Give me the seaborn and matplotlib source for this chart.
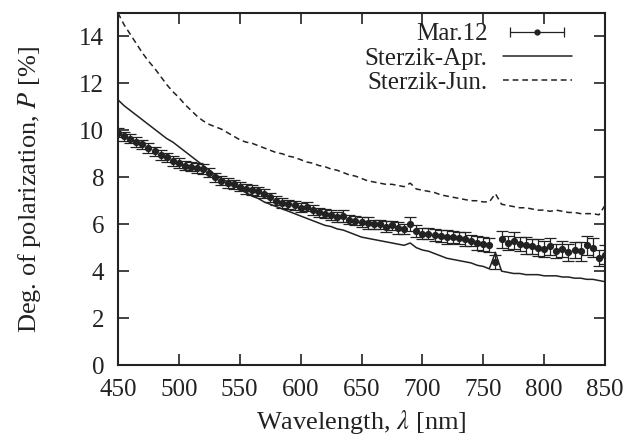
import numpy as np
import pandas as pd
import matplotlib
matplotlib.use("Agg")
import matplotlib.pyplot as plt
import seaborn as sns
from matplotlib.lines import Line2D
from matplotlib.legend_handler import HandlerLine2D, HandlerTuple

wavelength = [450, 455, 460, 465, 470, 475, 480, 485, 490, 495,
              500, 505, 510, 515, 520, 525, 530, 535, 540, 545,
              550, 555, 560, 565, 570, 575, 580, 585, 590, 595,
              600, 605, 610, 615, 620, 625, 630, 635, 640, 645,
              650, 655, 660, 665, 670, 675, 680, 685, 690, 695,
              700, 705, 710, 715, 720, 725, 730, 735, 740, 745,
              750, 755, 760, 765, 770, 775, 780, 785, 790, 795,
              800, 805, 810, 815, 820, 825, 830, 835, 840, 845, 850]

sterzik_jun = [15.0, 14.5, 14.1, 13.7, 13.3, 12.95, 12.65, 12.3, 11.95, 11.65,
               11.4, 11.1, 10.85, 10.6, 10.4, 10.25, 10.15, 10.05, 9.9, 9.75,
               9.6, 9.5, 9.45, 9.35, 9.25, 9.15, 9.05, 9.0, 8.9, 8.85,
               8.75, 8.65, 8.6, 8.5, 8.45, 8.35, 8.3, 8.2, 8.1, 8.05,
               7.95, 7.85, 7.8, 7.75, 7.7, 7.7, 7.65, 7.6, 7.75, 7.5,
               7.45, 7.4, 7.35, 7.25, 7.2, 7.15, 7.1, 7.05, 7.0, 7.0,
               6.95, 6.95, 7.3, 6.85, 6.8, 6.75, 6.7, 6.7, 6.65, 6.6,
               6.6, 6.55, 6.6, 6.55, 6.5, 6.5, 6.45, 6.45, 6.45, 6.4, 6.8]

sterzik_apr = [11.3, 11.05, 10.85, 10.65, 10.45, 10.25, 10.05, 9.85, 9.65, 9.5,
               9.3, 9.1, 8.9, 8.7, 8.5, 8.3, 8.1, 7.95, 7.8, 7.65,
               7.5, 7.35, 7.2, 7.1, 6.95, 6.85, 6.75, 6.65, 6.55, 6.45,
               6.35, 6.25, 6.15, 6.05, 5.95, 5.9, 5.8, 5.75, 5.65, 5.55,
               5.45, 5.4, 5.35, 5.3, 5.25, 5.2, 5.15, 5.1, 5.2, 5.0,
               4.9, 4.85, 4.75, 4.65, 4.55, 4.5, 4.45, 4.4, 4.35, 4.25,
               4.2, 4.1, 4.8, 4.0, 3.95, 3.9, 3.9, 3.85, 3.85, 3.85,
               3.8, 3.8, 3.8, 3.75, 3.75, 3.7, 3.7, 3.65, 3.65, 3.6, 3.55]

mar12 = [9.9, 9.75, 9.65, 9.5, 9.4, 9.25, 9.1, 8.95, 8.85, 8.7,
         8.6, 8.5, 8.45, 8.4, 8.35, 8.2, 8.0, 7.85, 7.75, 7.7,
         7.6, 7.5, 7.45, 7.4, 7.3, 7.15, 7.0, 6.9, 6.85, 6.8,
         6.7, 6.75, 6.6, 6.5, 6.45, 6.4, 6.3, 6.35, 6.2, 6.15,
         6.1, 6.05, 6.0, 6.0, 5.9, 5.95, 5.85, 5.8, 6.0, 5.7,
         5.6, 5.6, 5.55, 5.5, 5.45, 5.45, 5.4, 5.35, 5.3, 5.2,
         5.15, 5.1, 4.4, 5.35, 5.2, 5.3, 5.15, 5.1, 5.05, 5.0,
         4.95, 5.05, 4.85, 4.95, 4.8, 4.9, 4.85, 5.1, 5.0, 4.55, 4.7]

mar12_err = [0.2, 0.2, 0.2, 0.2, 0.2, 0.2, 0.2, 0.2, 0.2, 0.2,
             0.2, 0.2, 0.2, 0.2, 0.2, 0.2, 0.2, 0.2, 0.2, 0.2,
             0.2, 0.2, 0.2, 0.2, 0.2, 0.2, 0.2, 0.2, 0.2, 0.2,
             0.2, 0.2, 0.2, 0.2, 0.2, 0.2, 0.2, 0.25, 0.2, 0.2,
             0.2, 0.25, 0.2, 0.2, 0.25, 0.2, 0.25, 0.2, 0.3, 0.25,
             0.25, 0.25, 0.25, 0.25, 0.3, 0.25, 0.25, 0.3, 0.25, 0.3,
             0.3, 0.3, 0.3, 0.35, 0.3, 0.35, 0.3, 0.35, 0.3, 0.35,
             0.35, 0.35, 0.3, 0.35, 0.35, 0.35, 0.4, 0.4, 0.4, 0.35, 0.4]

df = pd.DataFrame({"wl": wavelength, "apr": sterzik_apr, "jun": sterzik_jun,
                   "mar": mar12, "err": mar12_err})

sns.set_theme(style="ticks")
plt.rcParams["font.family"] = ["Liberation Serif", "DejaVu Serif"]
plt.rcParams["mathtext.fontset"] = "stix"

C = "#222222"
DASH = (0, (3.8, 2.5))
fig = plt.figure(figsize=(6.29, 4.44), dpi=100)
ax = fig.add_axes([118 / 629, 1 - 365 / 444, 487 / 629, 352 / 444])

sns.lineplot(data=df, x="wl", y="apr", ax=ax, color=C, lw=1.1, legend=False)
sns.lineplot(data=df, x="wl", y="jun", ax=ax, color=C, lw=1.1, legend=False,
             linestyle=DASH)
ax.errorbar(df["wl"], df["mar"], yerr=df["err"], fmt="o", color=C, ms=4.2,
            elinewidth=0.9, capsize=4.5, capthick=0.9)

ax.set_xlim(450, 850)
ax.set_ylim(0, 15)
ax.set_xticks(range(450, 851, 50))
ax.set_yticks(range(0, 15, 2))
ax.tick_params(direction="in", length=8, width=1.2, top=True, right=True,
               labelsize=18, colors=C, pad=10)
for s in ax.spines.values():
    s.set_linewidth(1.5)
    s.set_color(C)
ax.set_xlabel(r"Wavelength, $\lambda$ [nm]", fontsize=19, color=C)
ax.set_ylabel(r"Deg. of polarization, $P$ [%]", fontsize=19, color=C)
ax.xaxis.label.set_va("center")
ax.xaxis.set_label_coords(0.5, (365 - 422) / 352)
ax.yaxis.label.set_va("center")
ax.yaxis.set_label_coords((30 - 118) / 487, 0.5)

caps = Line2D([], [], color=C, lw=0.9, marker="|", ms=7, mew=0.9)
dot = Line2D([], [], color=C, lw=0, marker="o", ms=3.5)
h_apr = Line2D([], [], color=C, lw=1.1)
h_jun = Line2D([], [], color=C, lw=1.1, linestyle=DASH)
leg = ax.legend([(caps, dot), h_apr, h_jun],
                ["Mar.12", "Sterzik-Apr.", "Sterzik-Jun."],
                handler_map={caps: HandlerLine2D(numpoints=2),
                             dot: HandlerLine2D(numpoints=1),
                             tuple: HandlerTuple(ndivide=1, pad=0)},
                loc="upper right", bbox_to_anchor=(571.7 / 629, 1 - 23 / 444),
                bbox_transform=fig.transFigure,
                markerfirst=False, frameon=False, fontsize=18,
                handlelength=2.76, handletextpad=0.6, labelspacing=0.07,
                borderaxespad=0, borderpad=0)
for t in leg.get_texts():
    t.set_color(C)

fig.savefig("out.png", dpi=100)
